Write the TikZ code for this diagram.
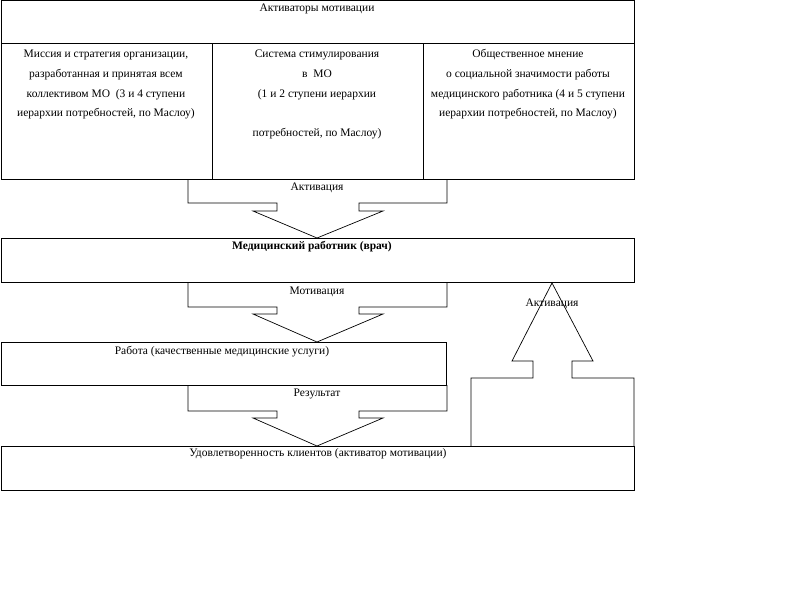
\documentclass[tikz,border=0pt]{standalone}
\usepackage{fontspec}
\setmainfont{Liberation Serif}
\begin{document}
\begin{tikzpicture}[x=1pt,y=-1pt,
  boxline/.style={draw=black,line width=1pt},
  callout/.style={draw=black,line width=0.7pt,line join=miter},
  lbl/.style={inner sep=0pt,anchor=base,font=\fontsize{11.5}{19.7}\selectfont},
  cell/.style={inner sep=0pt,anchor=north,align=center,font=\fontsize{11.5}{19.7}\selectfont}]
\useasboundingbox (0,0) rectangle (799,610);
% boxes
\draw[boxline] (1,1) rectangle (634,179);
\draw[boxline] (1,44) -- (634,44);
\draw[boxline] (212,44) -- (212,179);
\draw[boxline] (423,44) -- (423,179);
\draw[boxline] (1,238) rectangle (634,282);
\draw[boxline] (1,342) rectangle (446,385);
\draw[boxline] (1,446) rectangle (634,490);
% down callouts
\draw[callout] (188,179) -- (188,203) -- (277,203) -- (277,211) -- (253,211) -- (317,238)
  -- (383,211) -- (359,211) -- (359,203) -- (447,203) -- (447,179);
\draw[callout] (188,282) -- (188,307) -- (277,307) -- (277,314) -- (253,314) -- (317,342)
  -- (383,314) -- (359,314) -- (359,307) -- (447,307) -- (447,282);
\draw[callout] (188,385) -- (188,411) -- (277,411) -- (277,418) -- (253,418) -- (317,446)
  -- (383,418) -- (359,418) -- (359,411) -- (447,411) -- (447,385);
% up callout
\draw[callout] (471,446) -- (471,378) -- (533,378) -- (533,361) -- (512,361) -- (552,283)
  -- (593,361) -- (572,361) -- (572,378) -- (634,378) -- (634,446);
% texts
\node[lbl] (hdr) at (317,11.5) {Активаторы мотивации};
\node[cell] (c1) at (106,48.5) {\rule{0pt}{9pt}Миссия и стратегия организации,\\разработанная и принятая всем\\коллективом МО\ \ (3 и 4 ступени\\иерархии потребностей, по Маслоу)};
\node[cell] (c2) at (317,48.5) {\rule{0pt}{9pt}Система стимулирования\\в\ \ МО\\(1 и 2 ступени иерархии\\\rule{0pt}{9pt}\\потребностей, по Маслоу)};
\node[cell] (c3) at (528,48.5) {\rule{0pt}{9pt}Общественное мнение\\о социальной значимости работы\\медицинского работника (4 и 5 ступени\\иерархии потребностей, по Маслоу)};
\node[lbl] (a1) at (317,190.5) {Активация};
\node[lbl,font=\fontsize{11.5}{19.7}\selectfont\bfseries] (med) at (312,249.5) {Медицинский работник (врач)};
\node[lbl] (a2) at (317,294.5) {Мотивация};
\node[lbl] (work) at (222,354.5) {Работа (качественные медицинские\ услуги)};
\node[lbl] (a3) at (317,396.5) {Результат};
\node[lbl] (sat) at (318,456.5) {Удовлетворенность клиентов (активатор мотивации)};
\node[lbl] (a4) at (552,306.5) {Активация};
\end{tikzpicture}
\end{document}
